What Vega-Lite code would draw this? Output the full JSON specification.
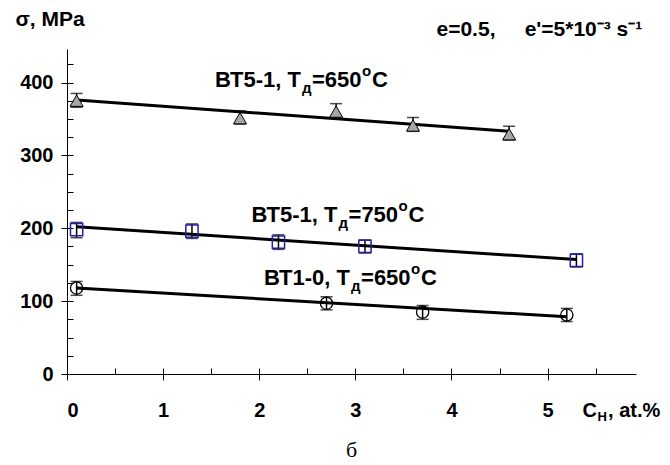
{
  "$schema": "https://vega.github.io/schema/vega-lite/v6.json",
  "width": 569,
  "height": 325,
  "autosize": {"type": "none"},
  "padding": {"left": 67, "top": 49, "right": 34, "bottom": 91},
  "background": "white",
  "config": {
    "view": {"stroke": null},
    "font": "Liberation Sans",
    "axis": {
      "grid": false,
      "domainColor": "black",
      "tickColor": "black",
      "labelColor": "black",
      "titleColor": "black",
      "labelFont": "Liberation Sans",
      "labelFontWeight": "bold",
      "titleFont": "Liberation Sans",
      "titleFontWeight": "bold",
      "domainWidth": 1,
      "tickWidth": 1
    }
  },
  "title": {"text": "б", "orient": "bottom", "font": "Liberation Serif", "fontSize": 22, "fontWeight": "normal", "color": "black", "anchor": "middle", "offset": 17},
  "datasets": {
    "lines": [
      {"s": "A", "x": 0.1, "y": 376},
      {"s": "A", "x": 4.6, "y": 333},
      {"s": "B", "x": 0.1, "y": 202},
      {"s": "B", "x": 5.3, "y": 157},
      {"s": "C", "x": 0.1, "y": 118},
      {"s": "C", "x": 5.2, "y": 78.5}
    ],
    "points": [
      {"s": "A", "x": 0.1, "y": 375, "lo": 366, "hi": 385},
      {"s": "A", "x": 1.8, "y": 351, "lo": 343, "hi": 361},
      {"s": "A", "x": 2.8, "y": 360, "lo": 351, "hi": 371},
      {"s": "A", "x": 3.6, "y": 341, "lo": 333, "hi": 352},
      {"s": "A", "x": 4.6, "y": 329, "lo": 321, "hi": 340},
      {"s": "B", "x": 0.1, "y": 198, "lo": 187, "hi": 208},
      {"s": "B", "x": 1.3, "y": 196, "lo": 186, "hi": 206},
      {"s": "B", "x": 2.2, "y": 181, "lo": 171, "hi": 191},
      {"s": "B", "x": 3.1, "y": 175, "lo": 166, "hi": 184},
      {"s": "B", "x": 5.3, "y": 156, "lo": 147, "hi": 165},
      {"s": "C", "x": 0.1, "y": 118, "lo": 108, "hi": 127},
      {"s": "C", "x": 2.7, "y": 97, "lo": 88, "hi": 106},
      {"s": "C", "x": 3.7, "y": 85, "lo": 75, "hi": 94},
      {"s": "C", "x": 5.2, "y": 81, "lo": 72, "hi": 90}
    ],
    "labels": [
      {"x": 1.54, "y": 393.6, "main": "ВТ5-1, Т", "sub": "д", "mid": "=650", "sup": "o", "end": "C"},
      {"x": 1.92, "y": 208.6, "main": "ВТ5-1, Т", "sub": "д", "mid": "=750", "sup": "o", "end": "C"},
      {"x": 2.05, "y": 122.3, "main": "ВТ1-0, Т", "sub": "д", "mid": "=650", "sup": "o", "end": "C"}
    ]
  },
  "layer": [
    {
      "data": {"name": "lines"},
      "mark": {"type": "line", "color": "black", "strokeWidth": 3},
      "encoding": {
        "x": {
          "field": "x", "type": "quantitative",
          "scale": {"domain": [0, 5.92], "nice": false, "zero": false},
          "axis": {
            "orient": "bottom", "values": [0, 1, 2, 3, 4, 5], "tickSize": 6, "labelPadding": 20, "labelFontSize": 20,
            "title": "C\u00a0\u00a0, at.%", "titleX": 515, "titleY": 42, "titleAlign": "left", "titleBaseline": "alphabetic", "titleFontSize": 20
          }
        },
        "y": {
          "field": "y", "type": "quantitative",
          "scale": {"domain": [0, 446], "nice": false, "zero": false},
          "axis": {
            "orient": "left", "values": [0, 100, 200, 300, 400], "tickSize": 6, "labelPadding": 8, "labelFontSize": 20,
            "title": "σ, MPa", "titleAngle": 0, "titleX": -52, "titleY": -24, "titleAlign": "left", "titleBaseline": "alphabetic", "titleFontSize": 21
          }
        },
        "detail": {"field": "s"}
      }
    },
    {
      "data": {"name": "points"},
      "mark": {"type": "rule", "color": "black", "strokeWidth": 1.5},
      "encoding": {
        "x": {
          "field": "x", "type": "quantitative",
          "axis": {
            "orient": "bottom", "values": [0, 0.5, 1, 1.5, 2, 2.5, 3, 3.5, 4, 4.5, 5, 5.5], "tickSize": -6, "domain": false, "labels": false,
            "title": "H", "titleX": 530, "titleY": 46, "titleAlign": "left", "titleBaseline": "alphabetic", "titleFontSize": 13
          }
        },
        "y": {
          "field": "lo", "type": "quantitative",
          "axis": {
            "orient": "left", "values": [0, 25, 50, 75, 100, 125, 150, 175, 200, 225, 250, 275, 300, 325, 350, 375, 400, 425], "tickSize": -6, "domain": false, "labels": false,
            "title": "e=0.5,\u00a0\u00a0\u00a0\u00a0\u00a0e'=5*10⁻³ s⁻¹", "titleAngle": 0, "titleX": 369, "titleY": -14, "titleAlign": "left", "titleBaseline": "alphabetic", "titleFontSize": 21
          }
        },
        "y2": {"field": "hi"}
      }
    },
    {
      "data": {"name": "points"},
      "mark": {"type": "tick", "orient": "horizontal", "color": "black", "size": 12, "thickness": 1.5},
      "encoding": {
        "x": {"field": "x", "type": "quantitative", "axis": null},
        "y": {"field": "hi", "type": "quantitative", "axis": null}
      }
    },
    {
      "data": {"name": "points"},
      "mark": {"type": "tick", "orient": "horizontal", "color": "black", "size": 12, "thickness": 1.5},
      "encoding": {
        "x": {"field": "x", "type": "quantitative", "axis": null},
        "y": {"field": "lo", "type": "quantitative", "axis": null}
      }
    },
    {
      "data": {"name": "points"},
      "transform": [{"filter": "datum.s === 'A'"}],
      "mark": {"type": "point", "shape": "triangle-up", "filled": true, "fill": "#a6a6a6", "stroke": "black", "strokeWidth": 1, "size": 170, "opacity": 1},
      "encoding": {
        "x": {"field": "x", "type": "quantitative", "axis": null},
        "y": {"field": "y", "type": "quantitative", "axis": null}
      }
    },
    {
      "data": {"name": "points"},
      "transform": [{"filter": "datum.s === 'B'"}],
      "mark": {"type": "point", "shape": "square", "filled": false, "stroke": "#2020a8", "strokeWidth": 1.5, "size": 150, "opacity": 1},
      "encoding": {
        "x": {"field": "x", "type": "quantitative", "axis": null},
        "y": {"field": "y", "type": "quantitative", "axis": null}
      }
    },
    {
      "data": {"name": "points"},
      "transform": [{"filter": "datum.s === 'C'"}],
      "mark": {"type": "point", "shape": "circle", "filled": false, "stroke": "black", "strokeWidth": 1.3, "size": 150, "opacity": 1},
      "encoding": {
        "x": {"field": "x", "type": "quantitative", "axis": null},
        "y": {"field": "y", "type": "quantitative", "axis": null}
      }
    },
    {
      "data": {"name": "labels"},
      "mark": {"type": "text", "align": "left", "baseline": "alphabetic", "font": "Liberation Sans", "fontWeight": "bold", "fontSize": 22, "color": "black"},
      "encoding": {
        "x": {"field": "x", "type": "quantitative", "axis": null},
        "y": {"field": "y", "type": "quantitative", "axis": null},
        "text": {"field": "main"}
      }
    },
    {
      "data": {"name": "labels"},
      "mark": {"type": "text", "align": "left", "baseline": "alphabetic", "font": "Liberation Sans", "fontWeight": "bold", "fontSize": 15, "color": "black", "dx": 87, "dy": 6},
      "encoding": {
        "x": {"field": "x", "type": "quantitative", "axis": null},
        "y": {"field": "y", "type": "quantitative", "axis": null},
        "text": {"field": "sub"}
      }
    },
    {
      "data": {"name": "labels"},
      "mark": {"type": "text", "align": "left", "baseline": "alphabetic", "font": "Liberation Sans", "fontWeight": "bold", "fontSize": 22, "color": "black", "dx": 97},
      "encoding": {
        "x": {"field": "x", "type": "quantitative", "axis": null},
        "y": {"field": "y", "type": "quantitative", "axis": null},
        "text": {"field": "mid"}
      }
    },
    {
      "data": {"name": "labels"},
      "mark": {"type": "text", "align": "left", "baseline": "alphabetic", "font": "Liberation Sans", "fontWeight": "bold", "fontSize": 15, "color": "black", "dx": 147, "dy": -11},
      "encoding": {
        "x": {"field": "x", "type": "quantitative", "axis": null},
        "y": {"field": "y", "type": "quantitative", "axis": null},
        "text": {"field": "sup"}
      }
    },
    {
      "data": {"name": "labels"},
      "mark": {"type": "text", "align": "left", "baseline": "alphabetic", "font": "Liberation Sans", "fontWeight": "bold", "fontSize": 22, "color": "black", "dx": 157},
      "encoding": {
        "x": {"field": "x", "type": "quantitative", "axis": null},
        "y": {"field": "y", "type": "quantitative", "axis": null},
        "text": {"field": "end"}
      }
    }
  ],
  "resolve": {"axis": {"x": "independent", "y": "independent"}}
}
